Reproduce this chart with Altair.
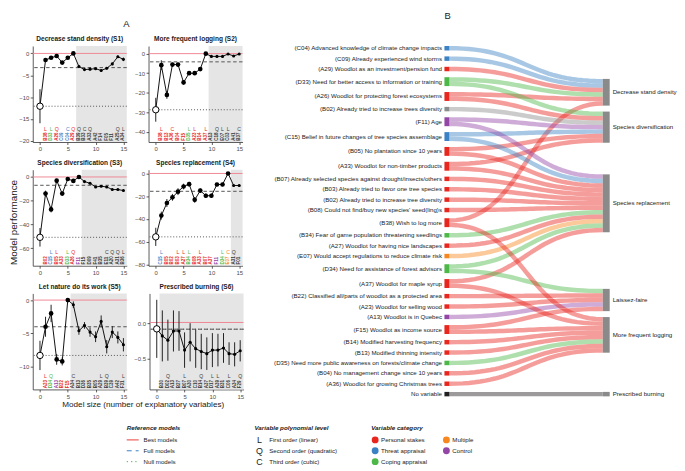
import altair as alt
import numpy as np
import pandas as pd

FONT = "Liberation Sans"

# ---------------- categories ----------------
CAT_CODES = {"P": "Personal stakes", "T": "Threat appraisal", "Cp": "Coping appraisal",
             "M": "Multiple", "Ct": "Control", "G": "Other", "N": "None", "X": "Excluded"}
CATS = ["Personal stakes", "Threat appraisal", "Coping appraisal", "Multiple", "Control",
        "Other", "None", "Excluded"]
CAT_COLORS = ["#e8261e", "#3b82c4", "#4cb848", "#f7871f", "#9346a6", "#8c8c8c", "#231f20", "#3a3a3a"]
CSCALE = alt.Scale(domain=CATS, range=CAT_COLORS)

# ---------------- Panel A data ----------------
S_TITLES = ["Decrease stand density (S1)", "More frequent logging (S2)",
            "Species diversification (S3)", "Species replacement (S4)",
            "Let nature do its work (S5)", "Prescribed burning (S6)"]

S1_VALS = [-12.1, -1.5, -1.0, -0.6, -2.1, -1.0, 0.0, -3.0, -3.7, -3.6, -3.5, -3.9, -3.4, -2.4, -0.75, -1.36]
S1_ERR = [3.9, 0.4, 0.3, 0.3, 0.3, 0.3, 0.2, 0.3, 0.3, 0.3, 0.3, 0.3, 0.3, 0.3, 0.3, 0.4]
S1_LABELS = ["B38", "D33", "A26", "C09", "C04", "A29", "B39", "B33", "A33", "A42", "F14", "F05", "F11", "A25", "A34"]
S1_LCATS = ["P", "Cp", "P", "T", "T", "P"] + ["X"] * 9
S1_POLY = ["L", "L", "Q", "", "C", "Q", "Q", "C", "Q", "", "", "", "", "Q", "L"]

S2_VALS = [-28.7, -5.9, -21.1, -5.6, -5.6, -14.7, -10.0, -10.0, -7.9, 0.0, -1.4, -1.4, -1.4, -0.2, -1.2, -0.2]
S2_ERR = [6.1, 2.5, 2.0, 1.0, 1.0, 1.2, 0.8, 0.8, 0.8, 0.3, 0.5, 0.5, 0.5, 0.3, 0.5, 0.3]
S2_LABELS = ["B38", "B13", "A36", "B04", "F15", "D35", "A23", "B14", "A37", "A13", "C18", "E07", "C03", "A41", "B37"]
S2_LCATS = ["P", "P", "P", "P", "P", "Cp", "P", "P", "P"] + ["X"] * 6
S2_POLY = ["L", "", "C", "", "", "L", "L", "", "L", "", "Q", "L", "L", "", "C"]

S3_VALS = [-50.8, -14.0, -27.3, -3.1, -14.0, -1.7, -3.3, 0.0, -3.9, -5.3, -8.4, -7.8, -8.4, -10.6, -10.6, -11.4]
S3_ERR = [7.8, 2.5, 2.5, 1.5, 1.5, 1.0, 1.0, 0.5, 0.8, 0.8, 0.8, 0.8, 0.8, 0.8, 0.8, 0.8]
S3_LABELS = ["B02", "C15", "B05", "A33", "D33", "A26", "F11", "F15", "D09", "F41", "B35", "E11", "A20", "A31", "B36"]
S3_LCATS = ["P", "T", "P", "P", "Cp", "P", "Ct"] + ["X"] * 8
S3_POLY = ["", "L", "L", "", "L", "Q", "", "", "", "", "", "C", "Q", "Q", "L"]

S4_VALS = [-55.8, -37.1, -26.0, -21.0, -16.0, -11.5, -9.4, -23.2, -15.1, -19.6, -19.6, -9.7, -9.7, 0.0, -10.6, -10.6]
S4_ERR = [8.0, 3.5, 3.5, 3.0, 3.0, 2.5, 2.0, 2.5, 2.0, 2.0, 2.0, 1.5, 1.5, 0.8, 1.0, 1.0]
S4_LABELS = ["C15", "B05", "B02", "B03", "A27", "B34", "B08", "A33", "B07", "A37", "F11", "D34", "E07", "A31", "F01"]
S4_LCATS = ["T", "P", "P", "P", "P", "Cp", "P", "P", "P", "P", "Ct", "Cp", "M", "X", "X"]
S4_POLY = ["L", "", "", "L", "L", "L", "", "L", "", "", "", "L", "C", "Q", ""]

S5_VALS = [-8.3, -4.0, -2.0, -8.9, -9.2, 0.0, -0.7, -4.6, -3.8, -4.8, -5.5, -3.2, -7.0, -4.8, -5.6, -6.7]
S5_ERR = [2.2, 1.5, 1.3, 0.8, 0.6, 0.3, 0.5, 0.6, 0.5, 0.7, 0.8, 0.9, 1.0, 0.9, 0.9, 1.0]
S5_LABELS = ["A23", "D34", "A13", "B22", "F15", "A34", "B13", "D36", "B35", "B05", "A29", "B39", "C39", "A42", "F31"]
S5_LCATS = ["P", "Cp", "Ct", "P", "P"] + ["X"] * 10
S5_POLY = ["L", "Q", "", "", "", "C", "", "", "", "", "L", "Q", "", "", "L"]

S6_VALS = [-0.08, -0.18, -0.24, -0.11, -0.11, -0.38, -0.27, -0.36, -0.40, -0.43, -0.38, -0.38, -0.35, -0.43, -0.44, -0.39]
S6_ERR = [0.41, 0.36, 0.29, 0.29, 0.28, 0.25, 0.27, 0.27, 0.25, 0.23, 0.24, 0.23, 0.21, 0.16, 0.17, 0.15]
S6_LABELS = ["B30", "D02", "A13", "B27", "B07", "A30", "C10", "B14", "A37", "D17", "A39", "B31", "C06", "A34", "F29"]
S6_LCATS = ["X"] * 15
S6_POLY = ["", "Q", "", "", "L", "", "", "Q", "", "L", "L", "", "L", "", "Q"]

# reference models: best, full, null ; best model size
S_BEST = [0.0, 0.0, 0.0, 0.0, 0.0, 0.01]
S_FULL = [-3.25, -4.2, -7.0, -15.7, -4.0, -0.085]
S_NULL = [-12.1, -28.7, -50.8, -55.8, -8.3, -0.085]
S_KBEST = [6, 9, 7, 13, 5, 0]
S_YDOM = [[-20.3, 1.7], [-45.2, 3.9], [-74.7, 6.1], [-81.2, 3.3], [-13.4, 1.0], [-0.935, 0.42]]
S_TICKS = [[0, -5, -10, -15, -20], [0, -10, -20, -30, -40], [0, -20, -40, -60],
           [0, -20, -40, -60, -80], [0, -5, -10], [0.0, -0.5]]
S_FMT = ["d", "d", "d", "d", "d", ".1f"]

PANELS = [
    (S1_VALS, S1_ERR, S1_LABELS, S1_LCATS, S1_POLY),
    (S2_VALS, S2_ERR, S2_LABELS, S2_LCATS, S2_POLY),
    (S3_VALS, S3_ERR, S3_LABELS, S3_LCATS, S3_POLY),
    (S4_VALS, S4_ERR, S4_LABELS, S4_LCATS, S4_POLY),
    (S5_VALS, S5_ERR, S5_LABELS, S5_LCATS, S5_POLY),
    (S6_VALS, S6_ERR, S6_LABELS, S6_LCATS, S6_POLY),
]

XDOM = [-1.3, 15.6]
PW, PH = 95, 97


def make_panel(i):
    vals, err, labels, lcats, poly = PANELS[i]
    v = np.array(vals, dtype=float)
    e = np.array(err, dtype=float)
    ymin, ymax = S_YDOM[i]
    rng = ymax - ymin
    k = S_KBEST[i]
    xs = list(range(len(vals)))
    df = pd.DataFrame({"x": xs, "y": v, "lo": v - e, "hi": v + e,
                       "grp": ["in" if (0 < j <= k) else "out" for j in xs]})
    labdf = pd.DataFrame({"x": xs[1:], "lab": labels,
                          "cat": [CAT_CODES[c] for c in lcats], "poly": poly,
                          "ly": ymin + 0.012 * rng, "py": ymin + 0.14 * rng})
    xsc = alt.Scale(domain=XDOM, nice=False, zero=False)
    ysc = alt.Scale(domain=[ymin, ymax], nice=False, zero=False)
    xax = alt.Axis(values=[0, 5, 10, 15], title=None, format="d", labelFlush=False)
    yax = alt.Axis(values=S_TICKS[i], title=None, format=S_FMT[i], minExtent=14, maxExtent=14)

    def X(f):
        return alt.X(f, scale=xsc, axis=xax)

    def Y(f):
        return alt.Y(f, scale=ysc, axis=yax)

    rect = alt.Chart(pd.DataFrame({"xa": [k + 0.5], "xb": [XDOM[1]], "ya": [ymin], "yb": [ymax]})).mark_rect(
        color="#e4e5e4").encode(x=X("xa:Q"), x2="xb:Q", y=Y("ya:Q"), y2="yb:Q")
    refs = pd.DataFrame({"v": [S_BEST[i], S_FULL[i], S_NULL[i]], "kind": ["best", "full", "null"]})
    best = alt.Chart(refs).transform_filter("datum.kind == 'best'").mark_rule(
        color="#f08896", strokeWidth=1).encode(y=Y("v:Q"))
    full = alt.Chart(refs).transform_filter("datum.kind == 'full'").mark_rule(
        color="#444", strokeWidth=0.9, strokeDash=[3.5, 2.5]).encode(y=Y("v:Q"))
    null = alt.Chart(refs).transform_filter("datum.kind == 'null'").mark_rule(
        color="#444", strokeWidth=0.9, strokeDash=[1, 2]).encode(y=Y("v:Q"))
    bars = alt.Chart(df).mark_rule(color="#222", strokeWidth=1).encode(x=X("x:Q"), y=Y("lo:Q"), y2="hi:Q")
    line = alt.Chart(df).mark_line(color="#111", strokeWidth=1).encode(x=X("x:Q"), y=Y("y:Q"))
    pts = alt.Chart(df).transform_filter("datum.x > 0").mark_circle(color="#000", opacity=1).encode(
        x=X("x:Q"), y=Y("y:Q"),
        size=alt.Size("grp:N", scale=alt.Scale(domain=["in", "out"], range=[22, 10]), legend=None))
    openpt = alt.Chart(df).transform_filter("datum.x == 0").mark_point(
        shape="circle", filled=True, fill="white", stroke="#000", strokeWidth=1, size=42, opacity=1).encode(
        x=X("x:Q"), y=Y("y:Q"))
    labs = alt.Chart(labdf).mark_text(angle=270, align="left", baseline="middle", fontSize=4.6,
                                      fontWeight="bold").encode(
        x=X("x:Q"), y=Y("ly:Q"), text="lab:N", color=alt.Color("cat:N", scale=CSCALE, legend=None))
    polys = alt.Chart(labdf).transform_filter("datum.poly != ''").mark_text(
        align="center", baseline="middle", fontSize=5.2).encode(
        x=X("x:Q"), y=Y("py:Q"), text="poly:N", color=alt.Color("cat:N", scale=CSCALE, legend=None))
    return alt.layer(rect, best, full, null, bars, line, pts, openpt, labs, polys).properties(
        width=PW, height=PH,
        title=alt.TitleParams(S_TITLES[i], fontSize=6.6, fontWeight="bold", offset=3, anchor="middle"))


rows = [alt.hconcat(make_panel(2 * r), make_panel(2 * r + 1), spacing=6) for r in range(3)]
inner = alt.vconcat(*rows, spacing=8,
                    title=alt.TitleParams("Model size (number of explanatory variables)", orient="bottom",
                                          fontSize=8.2, fontWeight="normal", offset=2, anchor="middle", dx=12))
mid = alt.hconcat(inner, spacing=0,
                  title=alt.TitleParams("Model performance", orient="left", fontSize=10,
                                        fontWeight="normal", offset=0, anchor="middle"))
panelA = alt.vconcat(mid, spacing=0,
                     title=alt.TitleParams("A", fontSize=9.5, fontWeight="normal", anchor="middle", offset=8))

# ---------------- Panel B data (Sankey) ----------------
LEFT_IDS = ["C04", "C09", "A29", "D33", "A26", "B02a", "F11", "C15", "B05", "A33", "B07", "B03", "B02b",
            "B08", "B38", "B34", "A27", "E07", "D34", "A37", "B22", "A23", "A13", "F15", "B14", "B13",
            "D35", "B04", "A36", "NONE"]
LEFT_LABELS = [
    "(C04) Advanced knowledge of climate change impacts",
    "(C09) Already experienced wind storms",
    "(A29) Woodlot as an investment/pension fund",
    "(D33) Need for better access to information or training",
    "(A26) Woodlot for protecting forest ecosystems",
    "(B02) Already tried to increase trees diversity",
    "(F11) Age",
    "(C15) Belief in future changes of tree species assemblage",
    "(B05) No plantation since 10 years",
    "(A33) Woodlot for non-timber products",
    "(B07) Already selected species against drought/insects/others",
    "(B03) Already tried to favor one tree species",
    "(B02) Already tried to increase tree diversity",
    "(B08) Could not find/buy new species' seed(ling)s",
    "(B38) Wish to log more",
    "(B34) Fear of game population threatening seedlings",
    "(A27) Woodlot for having nice landscapes",
    "(E07) Would accept regulations to reduce climate risk",
    "(D34) Need for assistance of forest advisors",
    "(A37) Woodlot for maple syrup",
    "(B22) Classified all/parts of woodlot as a protected area",
    "(A23) Woodlot for selling wood",
    "(A13) Woodlot is in Quebec",
    "(F15) Woodlot as income source",
    "(B14) Modified harvesting frequency",
    "(B13) Modified thinning intensity",
    "(D35) Need more public awareness on forests/climate change",
    "(B04) No management change since 10 years",
    "(A36) Woodlot for growing Christmas trees",
    "No variable",
]
LEFT_CATS = ["T", "T", "P", "Cp", "P", "G", "Ct", "T", "P", "P", "P", "P", "P", "P", "P", "Cp", "P", "M",
             "Cp", "P", "P", "P", "Ct", "P", "P", "P", "Cp", "P", "P", "N"]
RIGHT_NAMES = ["Decrease stand density", "Species diversification", "Species replacement",
               "Laissez-faire", "More frequent logging", "Prescribed burning"]
RIGHT_SOURCES = [
    ["C04", "C09", "A29", "D33", "A26", "B38"],
    ["D33", "A26", "B02a", "F11", "C15", "B05", "A33"],
    ["F11", "C15", "B05", "A33", "B07", "B03", "B02b", "B08", "B34", "A27", "E07", "D34", "A37"],
    ["D34", "B22", "A23", "A13", "F15"],
    ["B38", "A37", "F15", "B14", "B13", "D35", "B04", "A36"],
    ["NONE"],
]

# ---- sankey layout (computed) ----
UNIT, GAP = 4.5, 6.0
NODE_W, FLOW_W, BAR_W = 5.0, 155.0, 7.0
SW = NODE_W + FLOW_W + BAR_W
nl, nr = len(LEFT_IDS), len(RIGHT_NAMES)
links = [(LEFT_IDS.index(s), j) for j, srcs in enumerate(RIGHT_SOURCES) for s in srcs]
cnt = [sum(1 for s, t in links if s == i) for i in range(nl)]
ly0 = []
yy = 0.0
for c in cnt:
    ly0.append(yy)
    yy += c * UNIT + GAP
H = yy - GAP
lc = [ly0[i] + cnt[i] * UNIT / 2 for i in range(nl)]
rh = [len(s) * UNIT for s in RIGHT_SOURCES]
rcen = [float(np.mean([lc[LEFT_IDS.index(s)] for s in srcs])) for srcs in RIGHT_SOURCES]
ry0 = [rcen[j] - rh[j] / 2 for j in range(nr)]
for _ in range(400):
    for j in range(nr - 1):
        ov = ry0[j] + rh[j] + GAP - ry0[j + 1]
        if ov > 1e-6:
            ry0[j] -= ov / 2
            ry0[j + 1] += ov / 2
    ry0[0] = max(0.0, ry0[0])
    ry0[-1] = min(H - rh[-1], ry0[-1])
rc = [ry0[j] + rh[j] / 2 for j in range(nr)]

src_slot, tgt_slot = {}, {}
for i in range(nl):
    ks = sorted([k for k, (s, t) in enumerate(links) if s == i], key=lambda k: rc[links[k][1]])
    off = ly0[i]
    for k in ks:
        src_slot[k] = off + UNIT / 2
        off += UNIT
for j in range(nr):
    ks = sorted([k for k, (s, t) in enumerate(links) if t == j], key=lambda k: lc[links[k][0]])
    off = ry0[j]
    for k in ks:
        tgt_slot[k] = off + UNIT / 2
        off += UNIT

ts = np.linspace(0, 1, 33)
xa, xb = NODE_W, NODE_W + FLOW_W
xm = (xa + xb) / 2
rows_l = []
for k, (s, t) in enumerate(links):
    y0, y1 = src_slot[k], tgt_slot[k]
    bx = (1 - ts) ** 3 * xa + 3 * (1 - ts) ** 2 * ts * xm + 3 * (1 - ts) * ts ** 2 * xm + ts ** 3 * xb
    by = ((1 - ts) ** 3 + 3 * (1 - ts) ** 2 * ts) * y0 + (3 * (1 - ts) * ts ** 2 + ts ** 3) * y1
    for n in range(len(ts)):
        rows_l.append({"lid": k, "o": n, "x": bx[n], "y": by[n], "cat": CAT_CODES[LEFT_CATS[s]]})
linkdf = pd.DataFrame(rows_l)
leftdf = pd.DataFrame({"x": 0.0, "x2": NODE_W, "y0": ly0, "y1": [ly0[i] + cnt[i] * UNIT for i in range(nl)],
                       "yc": lc, "label": LEFT_LABELS, "cat": [CAT_CODES[c] for c in LEFT_CATS]})
rightdf = pd.DataFrame({"x": SW - BAR_W, "x2": SW, "y0": ry0, "y1": [ry0[j] + rh[j] for j in range(nr)],
                        "yc": rc, "label": RIGHT_NAMES})

sxs = alt.Scale(domain=[0, SW], nice=False, zero=False)
sys_ = alt.Scale(domain=[0, H], reverse=True, nice=False, zero=False)
SX = lambda f: alt.X(f, scale=sxs, axis=None)
SY = lambda f: alt.Y(f, scale=sys_, axis=None)

lk = alt.Chart(linkdf).mark_line(strokeWidth=UNIT, opacity=0.45, strokeCap="butt").encode(
    x=SX("x:Q"), y=SY("y:Q"), detail="lid:N", order="o:Q",
    color=alt.Color("cat:N", scale=CSCALE, legend=None))
lnode = alt.Chart(leftdf).mark_rect().encode(
    x=SX("x:Q"), x2="x2:Q", y=SY("y0:Q"), y2="y1:Q", color=alt.Color("cat:N", scale=CSCALE, legend=None))
rnode = alt.Chart(rightdf).mark_rect(color="#8a8a8a").encode(x=SX("x:Q"), x2="x2:Q", y=SY("y0:Q"), y2="y1:Q")
ltext = alt.Chart(leftdf).mark_text(align="right", baseline="middle", dx=-2.5, fontSize=6.2,
                                    color="#222").encode(x=SX("x:Q"), y=SY("yc:Q"), text="label:N")
rtext = alt.Chart(rightdf).mark_text(align="left", baseline="middle", dx=3, fontSize=6.2,
                                     color="#222").encode(x=SX("x2:Q"), y=SY("yc:Q"), text="label:N")
panelB = alt.layer(lk, lnode, rnode, ltext, rtext).properties(
    width=SW, height=H,
    title=alt.TitleParams("B", fontSize=9.5, fontWeight="normal", anchor="start", frame="group", offset=19))

# ---------------- bottom legend ----------------
LEG_TITLES = ["Reference models", "Variable polynomial level", "Variable category"]
REF_LABELS = ["Best models", "Full models", "Null models"]
REF_KINDS = ["best", "full", "null"]
POLY_LETTERS = ["L", "Q", "C"]
POLY_LABELS = ["First order (linear)", "Second order (quadratic)", "Third order (cubic)"]
LEG_CATS = ["Personal stakes", "Threat appraisal", "Coping appraisal", "Multiple", "Control"]

LW, LH = 640, 42
COL_X = [95, 224, 342]
ROW_Y = [6, 18, 29, 40]
COL2_DX = 72

tdf = pd.DataFrame({"x": COL_X, "y": ROW_Y[0], "t": LEG_TITLES})
refdf = pd.DataFrame({"x": COL_X[0], "x2": COL_X[0] + 12, "y": ROW_Y[1:], "kind": REF_KINDS,
                      "lx": COL_X[0] + 17, "t": REF_LABELS})
polydf = pd.DataFrame({"x": COL_X[1] + 5, "y": ROW_Y[1:], "L": POLY_LETTERS, "lx": COL_X[1] + 15,
                       "t": POLY_LABELS})
cx = [COL_X[2] + 4] * 3 + [COL_X[2] + 4 + COL2_DX] * 2
cy = ROW_Y[1:] + ROW_Y[1:3]
catdf = pd.DataFrame({"x": cx, "y": cy, "cat": LEG_CATS, "lx": [c + 6 for c in cx]})

lxs = alt.Scale(domain=[0, LW], nice=False, zero=False)
lys = alt.Scale(domain=[0, LH], reverse=True, nice=False, zero=False)
LX = lambda f: alt.X(f, scale=lxs, axis=None)
LY = lambda f: alt.Y(f, scale=lys, axis=None)

g_t = alt.Chart(tdf).mark_text(align="left", baseline="middle", fontSize=6.3, fontStyle="italic",
                               fontWeight="bold", color="#222").encode(x=LX("x:Q"), y=LY("y:Q"), text="t:N")
g_r = alt.Chart(refdf).mark_rule(strokeWidth=1).encode(
    x=LX("x:Q"), x2="x2:Q", y=LY("y:Q"),
    color=alt.Color("kind:N", scale=alt.Scale(domain=REF_KINDS, range=["#f08896", "#222", "#444"]), legend=None),
    strokeDash=alt.StrokeDash("kind:N", scale=alt.Scale(domain=REF_KINDS, range=[[1, 0], [5, 4], [1.3, 3]]),
                              legend=None))
g_rl = alt.Chart(refdf).mark_text(align="left", baseline="middle", fontSize=6.2, color="#222").encode(
    x=LX("lx:Q"), y=LY("y:Q"), text="t:N")
g_p = alt.Chart(polydf).mark_text(align="center", baseline="middle", fontSize=9, color="#222").encode(
    x=LX("x:Q"), y=LY("y:Q"), text="L:N")
g_pl = alt.Chart(polydf).mark_text(align="left", baseline="middle", fontSize=6.2, color="#222").encode(
    x=LX("lx:Q"), y=LY("y:Q"), text="t:N")
g_c = alt.Chart(catdf).mark_circle(size=48, opacity=1).encode(
    x=LX("x:Q"), y=LY("y:Q"), color=alt.Color("cat:N", scale=CSCALE, legend=None))
g_cl = alt.Chart(catdf).mark_text(align="left", baseline="middle", fontSize=6.2, color="#222").encode(
    x=LX("lx:Q"), y=LY("y:Q"), text="cat:N")
legend = alt.layer(g_t, g_r, g_rl, g_p, g_pl, g_c, g_cl).properties(width=LW, height=LH)

top = alt.hconcat(panelA, panelB, spacing=29)
chart = alt.vconcat(top, legend, spacing=13, padding=0).configure_view(stroke=None).configure_axis(
    labelFont=FONT, labelFontSize=6, labelColor="#4d4d4d", tickColor="#333", domainColor="#333",
    tickSize=2.5, labelPadding=1.5, grid=False, domainWidth=0.8, tickWidth=0.8
).configure_title(font=FONT, color="#1a1a1a").configure_text(font=FONT)

chart.save("out.html", embed_options={"renderer": "svg", "actions": False})
